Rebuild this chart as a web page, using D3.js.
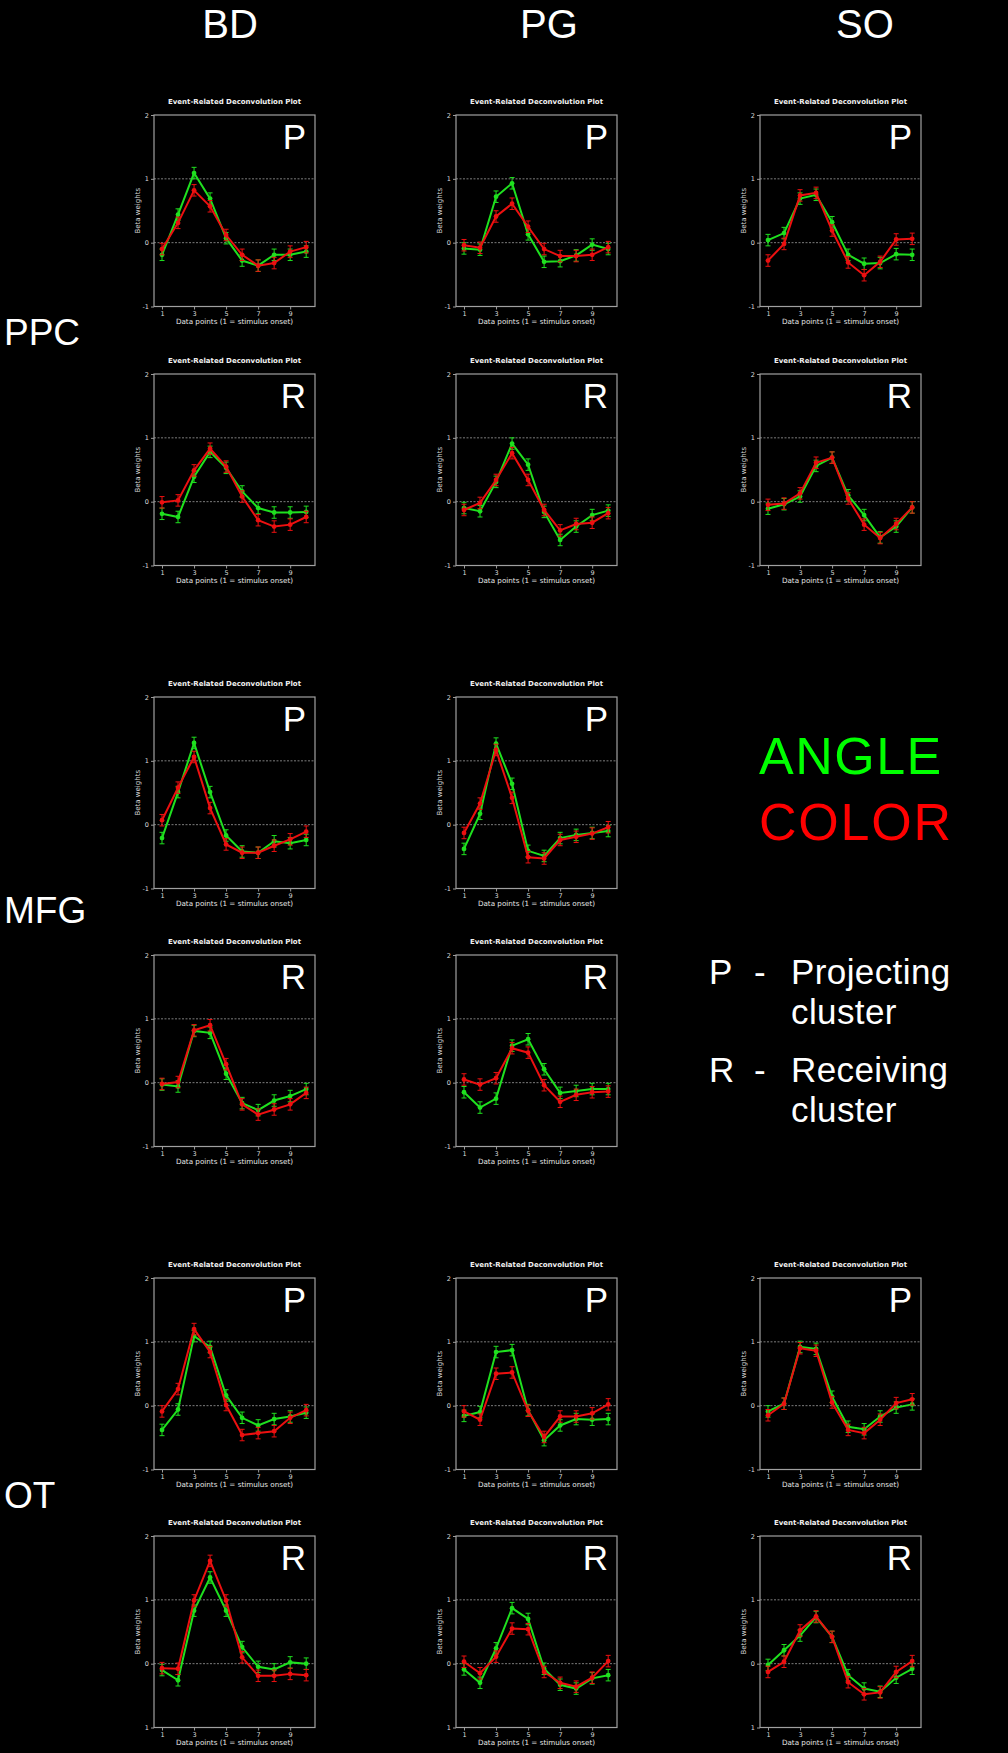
<!DOCTYPE html>
<html>
<head>
<meta charset="utf-8">
<script src="https://cdn.jsdelivr.net/npm/d3@7"></script>
<style>
  body { margin: 0; background: #000; }
  svg { display: block; }
</style>
</head>
<body>
<script>
// column / row names
var columns = ["BD", "PG", "SO"];
var regions = ["PPC", "MFG", "OT"];
var clusters = ["P", "R"];
var timePoints = [1, 2, 3, 4, 5, 6, 7, 8, 9, 10];
var xTicks = [1, 3, 5, 7, 9];
var yTicks = [2, 1, 0, -1];
var seAll = 0.09; // half length of the error bars (beta units)

// ANGLE (green) / COLOR (red) beta weights
var angle_BD_PPC_P = [-0.19, 0.44, 1.09, 0.69, 0.07, -0.28, -0.36, -0.19, -0.19, -0.14];
var color_BD_PPC_P = [-0.10, 0.31, 0.82, 0.57, 0.12, -0.19, -0.36, -0.32, -0.14, -0.07];
var angle_BD_PPC_R = [-0.19, -0.24, 0.39, 0.78, 0.53, 0.16, -0.10, -0.17, -0.17, -0.16];
var color_BD_PPC_R = [-0.01, 0.02, 0.49, 0.83, 0.55, 0.08, -0.29, -0.39, -0.36, -0.24];
var angle_PG_PPC_P = [-0.09, -0.11, 0.72, 0.93, 0.13, -0.30, -0.29, -0.20, -0.03, -0.10];
var color_PG_PPC_P = [-0.04, -0.08, 0.41, 0.61, 0.25, -0.10, -0.21, -0.21, -0.19, -0.07];
var angle_PG_PPC_R = [-0.10, -0.15, 0.31, 0.91, 0.58, -0.16, -0.60, -0.39, -0.21, -0.14];
var color_PG_PPC_R = [-0.13, -0.02, 0.34, 0.76, 0.34, -0.13, -0.45, -0.35, -0.33, -0.18];
var angle_SO_PPC_P = [0.04, 0.15, 0.69, 0.75, 0.32, -0.19, -0.33, -0.32, -0.18, -0.19];
var color_SO_PPC_P = [-0.28, -0.02, 0.74, 0.78, 0.19, -0.31, -0.51, -0.30, 0.05, 0.06];
var angle_SO_PPC_R = [-0.11, -0.04, 0.08, 0.56, 0.69, 0.10, -0.21, -0.56, -0.39, -0.09];
var color_SO_PPC_R = [-0.05, -0.03, 0.13, 0.61, 0.69, 0.05, -0.36, -0.57, -0.35, -0.09];

var angle_BD_MFG_P = [-0.21, 0.51, 1.28, 0.51, -0.17, -0.42, -0.44, -0.26, -0.29, -0.24];
var color_BD_MFG_P = [0.07, 0.58, 1.06, 0.26, -0.31, -0.44, -0.44, -0.33, -0.23, -0.11];
var angle_BD_MFG_R = [-0.03, -0.06, 0.81, 0.78, 0.14, -0.32, -0.43, -0.28, -0.21, -0.10];
var color_BD_MFG_R = [-0.02, 0.01, 0.82, 0.90, 0.29, -0.34, -0.50, -0.42, -0.34, -0.16];
var angle_PG_MFG_P = [-0.38, 0.17, 1.27, 0.64, -0.41, -0.49, -0.21, -0.16, -0.13, -0.10];
var color_PG_MFG_P = [-0.13, 0.33, 1.17, 0.42, -0.51, -0.53, -0.24, -0.19, -0.14, -0.04];
var angle_PG_MFG_R = [-0.15, -0.39, -0.25, 0.58, 0.68, 0.21, -0.16, -0.13, -0.10, -0.10];
var color_PG_MFG_R = [0.05, -0.03, 0.07, 0.54, 0.47, -0.04, -0.30, -0.19, -0.15, -0.14];

var angle_BD_OT_P = [-0.38, -0.06, 1.09, 0.92, 0.16, -0.19, -0.31, -0.21, -0.17, -0.11];
var color_BD_OT_P = [-0.09, 0.26, 1.20, 0.84, 0.01, -0.46, -0.43, -0.40, -0.19, -0.07];
var angle_BD_OT_R = [-0.10, -0.26, 0.83, 1.35, 0.83, 0.26, -0.05, -0.09, 0.02, 0.00];
var color_BD_OT_R = [-0.07, -0.08, 0.99, 1.61, 0.99, 0.10, -0.19, -0.19, -0.16, -0.18];
var angle_PG_OT_P = [-0.16, -0.10, 0.84, 0.87, -0.07, -0.54, -0.31, -0.21, -0.22, -0.21];
var color_PG_OT_P = [-0.09, -0.22, 0.50, 0.52, -0.08, -0.49, -0.17, -0.17, -0.12, 0.02];
var angle_PG_OT_R = [-0.09, -0.30, 0.24, 0.87, 0.70, -0.08, -0.33, -0.39, -0.23, -0.18];
var color_PG_OT_R = [0.03, -0.15, 0.11, 0.55, 0.54, -0.13, -0.30, -0.36, -0.22, 0.04];
var angle_SO_OT_P = [-0.09, 0.03, 0.92, 0.89, 0.14, -0.33, -0.37, -0.17, -0.03, 0.02];
var color_SO_OT_P = [-0.15, 0.03, 0.90, 0.86, 0.05, -0.38, -0.43, -0.22, 0.04, 0.10];
var angle_SO_OT_R = [-0.02, 0.21, 0.44, 0.73, 0.42, -0.18, -0.39, -0.44, -0.22, -0.08];
var color_SO_OT_R = [-0.13, 0.03, 0.52, 0.74, 0.42, -0.29, -0.48, -0.45, -0.13, 0.04];

// bottom tick labels as printed (the last row shows "1" at the bottom)
var yTickText = ["2", "1", "0", "-1"];
var yTickTextLast = ["2", "1", "0", "1"];

// panels (column index, region index, cluster index, series)
var panels = [
    [0, 0, 0, angle_BD_PPC_P, color_BD_PPC_P],
    [0, 0, 1, angle_BD_PPC_R, color_BD_PPC_R],
    [1, 0, 0, angle_PG_PPC_P, color_PG_PPC_P],
    [1, 0, 1, angle_PG_PPC_R, color_PG_PPC_R],
    [2, 0, 0, angle_SO_PPC_P, color_SO_PPC_P],
    [2, 0, 1, angle_SO_PPC_R, color_SO_PPC_R],
    [0, 1, 0, angle_BD_MFG_P, color_BD_MFG_P],
    [0, 1, 1, angle_BD_MFG_R, color_BD_MFG_R],
    [1, 1, 0, angle_PG_MFG_P, color_PG_MFG_P],
    [1, 1, 1, angle_PG_MFG_R, color_PG_MFG_R],
    [0, 2, 0, angle_BD_OT_P, color_BD_OT_P],
    [0, 2, 1, angle_BD_OT_R, color_BD_OT_R],
    [1, 2, 0, angle_PG_OT_P, color_PG_OT_P],
    [1, 2, 1, angle_PG_OT_R, color_PG_OT_R],
    [2, 2, 0, angle_SO_OT_P, color_SO_OT_P],
    [2, 2, 1, angle_SO_OT_R, color_SO_OT_R]
];

// layout
var W = 1008, H = 1753;
var colLeft = [154, 456, 760];
var frameTop = [[115, 374], [697, 955], [1278, 1536]];
var pw = 161, ph = 191.5;
var green = "#1fe01f", red = "#ec1010";

var svg = d3.select("body").append("svg")
    .attr("width", W)
    .attr("height", H)
    .style("background", "#000");

// column headers
var headerX = [230, 549, 865];
svg.selectAll(".colhead")
    .data(columns)
    .enter().append("text")
    .attr("class", "colhead")
    .attr("x", function(d, i) { return headerX[i]; })
    .attr("y", 38)
    .attr("text-anchor", "middle")
    .attr("fill", "#fff")
    .style("font-family", "'Liberation Sans', Arial, sans-serif")
    .style("font-size", "40px")
    .text(function(d) { return d; });

// row labels
var rowLabelY = [345, 923, 1508];
svg.selectAll(".rowlab")
    .data(regions)
    .enter().append("text")
    .attr("class", "rowlab")
    .attr("x", 4)
    .attr("y", function(d, i) { return rowLabelY[i]; })
    .attr("fill", "#fff")
    .style("font-family", "'Liberation Sans', Arial, sans-serif")
    .style("font-size", "37px")
    .text(function(d) { return d; });

panels.forEach(function(p) {
    var ci = p[0], ri = p[1], ki = p[2];
    var left = colLeft[ci], top = frameTop[ri][ki];
    var lastRow = (ri === 2 && ki === 1);

    var x = d3.scaleLinear().domain([0.5, 10.55]).range([left, left + pw]);
    var y = d3.scaleLinear().domain([-1, 2]).range([top + ph, top]);

    var g = svg.append("g");

    // title
    g.append("text")
        .attr("x", left + pw / 2)
        .attr("y", top - 11)
        .attr("text-anchor", "middle")
        .attr("fill", "#f2f2f2")
        .style("font-family", "'DejaVu Sans', Verdana, sans-serif")
        .style("font-weight", "bold")
        .style("font-size", "7px")
        .text("Event-Related Deconvolution Plot");

    // dotted reference lines
    g.selectAll(".ref")
        .data([1, 0])
        .enter().append("line")
        .attr("x1", left).attr("x2", left + pw)
        .attr("y1", function(d) { return y(d); })
        .attr("y2", function(d) { return y(d); })
        .attr("stroke", "#8a8a8a")
        .attr("stroke-width", 0.9)
        .attr("stroke-dasharray", "2,1.5");

    // axes
    var yAxis = d3.axisLeft(y).tickValues(yTicks).tickSize(3).tickPadding(2)
        .tickFormat(function(d, i) { return (lastRow ? yTickTextLast : yTickText)[i]; });
    var xAxis = d3.axisBottom(x).tickValues(xTicks).tickSize(3).tickPadding(1.5);

    var ya = g.append("g").attr("transform", "translate(" + left + ",0)").call(yAxis);
    var xa = g.append("g").attr("transform", "translate(0," + (top + ph) + ")").call(xAxis);
    [ya, xa].forEach(function(a) {
        a.select(".domain").remove();
        a.selectAll("line").attr("stroke", "#9a9a9a");
        a.selectAll("text")
            .attr("fill", "#dcdcdc")
            .style("font-family", "'DejaVu Sans', Verdana, sans-serif")
            .style("font-size", "6.5px");
    });

    // frame
    g.append("rect")
        .attr("x", left).attr("y", top)
        .attr("width", pw).attr("height", ph)
        .attr("fill", "none")
        .attr("stroke", "#a0a0a0")
        .attr("stroke-width", 1.2);

    // axis titles
    g.append("text")
        .attr("x", left + pw / 2)
        .attr("y", top + ph + 17.5)
        .attr("text-anchor", "middle")
        .attr("fill", "#e6e6e6")
        .style("font-family", "'DejaVu Sans', Verdana, sans-serif")
        .style("font-size", "7.2px")
        .text("Data points (1 = stimulus onset)");

    g.append("text")
        .attr("transform", "translate(" + (left - 14) + "," + (top + ph / 2) + ") rotate(-90)")
        .attr("text-anchor", "middle")
        .attr("fill", "#d8d8d8")
        .style("font-family", "'DejaVu Sans', Verdana, sans-serif")
        .style("font-size", "7px")
        .text("Beta weights");

    // cluster letter
    g.append("text")
        .attr("x", left + pw - 9)
        .attr("y", top + 34)
        .attr("text-anchor", "end")
        .attr("fill", "#fff")
        .style("font-family", "'Liberation Sans', Arial, sans-serif")
        .style("font-size", "35px")
        .text(clusters[ki]);

    // series
    var line = d3.line()
        .x(function(d, i) { return x(timePoints[i]); })
        .y(function(d) { return y(d); });

    [[p[3], green], [p[4], red]].forEach(function(s) {
        var vals = s[0], col = s[1];
        var sg = g.append("g");

        var eb = sg.selectAll(".eb").data(vals).enter().append("g");
        eb.append("line")
            .attr("x1", function(d, i) { return x(timePoints[i]); })
            .attr("x2", function(d, i) { return x(timePoints[i]); })
            .attr("y1", function(d) { return y(d - seAll); })
            .attr("y2", function(d) { return y(d + seAll); })
            .attr("stroke", col).attr("stroke-width", 1);
        [-1, 1].forEach(function(sgn) {
            eb.append("line")
                .attr("x1", function(d, i) { return x(timePoints[i]) - 2.5; })
                .attr("x2", function(d, i) { return x(timePoints[i]) + 2.5; })
                .attr("y1", function(d) { return y(d + sgn * seAll); })
                .attr("y2", function(d) { return y(d + sgn * seAll); })
                .attr("stroke", col).attr("stroke-width", 1);
        });

        sg.append("path")
            .datum(vals)
            .attr("d", line)
            .attr("fill", "none")
            .attr("stroke", col)
            .attr("stroke-width", 2);

        sg.selectAll(".pt").data(vals).enter().append("circle")
            .attr("cx", function(d, i) { return x(timePoints[i]); })
            .attr("cy", function(d) { return y(d); })
            .attr("r", 2.4)
            .attr("fill", col);
    });
});

// legend
var legendFont = "'Liberation Sans', Arial, sans-serif";
svg.append("text").attr("x", 759).attr("y", 774)
    .attr("fill", "#00ff00").style("font-family", legendFont).style("font-size", "52px")
    .style("letter-spacing", "1.5px")
    .text("ANGLE");
svg.append("text").attr("x", 759).attr("y", 840)
    .attr("fill", "#ff0000").style("font-family", legendFont).style("font-size", "52px")
    .style("letter-spacing", "1.8px")
    .text("COLOR");

var keyRows = [
    { letter: "P", words: ["Projecting", "cluster"], y: 984 },
    { letter: "R", words: ["Receiving", "cluster"], y: 1082 }
];
keyRows.forEach(function(k) {
    svg.append("text").attr("x", 709).attr("y", k.y)
        .attr("fill", "#fff").style("font-family", legendFont).style("font-size", "35px")
        .text(k.letter);
    svg.append("text").attr("x", 754).attr("y", k.y)
        .attr("fill", "#fff").style("font-family", legendFont).style("font-size", "35px")
        .text("-");
    k.words.forEach(function(w, i) {
        svg.append("text").attr("x", 791).attr("y", k.y + i * 40)
            .attr("fill", "#fff").style("font-family", legendFont).style("font-size", "35px")
            .style("letter-spacing", "0.4px")
            .text(w);
    });
});
</script>
</body>
</html>
